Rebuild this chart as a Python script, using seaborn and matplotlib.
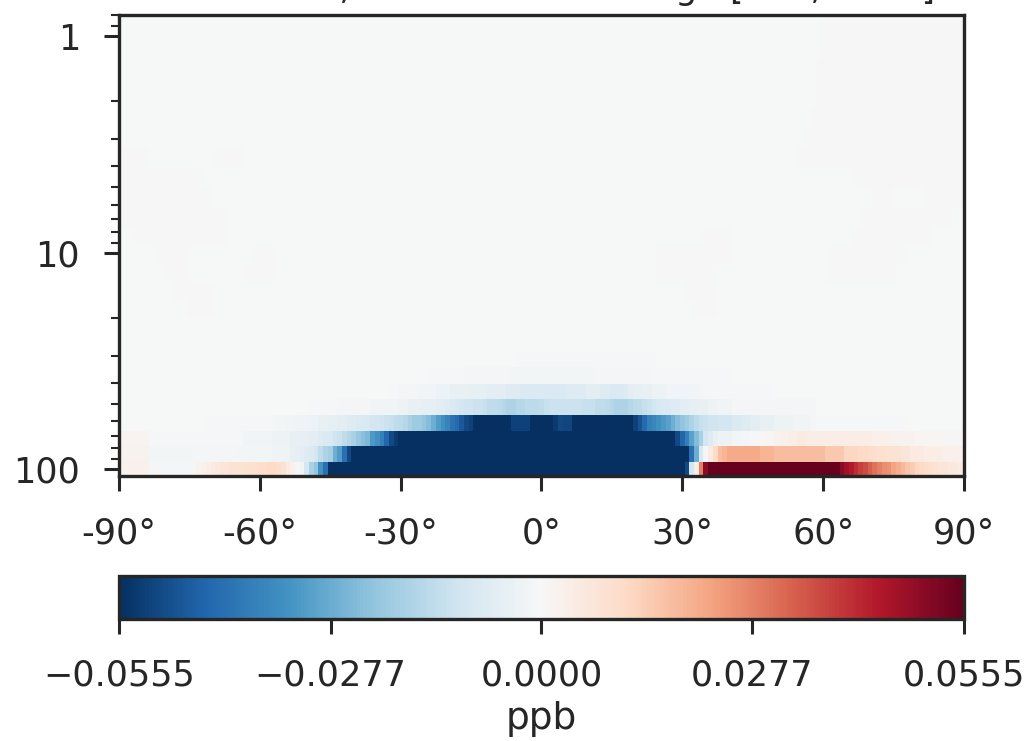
import numpy as np
import matplotlib
matplotlib.use("Agg")
import matplotlib.pyplot as plt
import seaborn as sns

# values, in 1e-3 ppb, one row per level from the bottom up
bg = -0.4
tint = 0.1
r00 = [3]*7 + [-1]*9 + [1, 2, 3, 4, 5] + [6, 7, 7, 8, 8, 8, 9, 9, 9, 10, 10, 11, 11] + [10, 8, 5, 3, -1, -2, -10, -18, -22, -33, -42] + [-60]*76 + [-50, -10, 4, 28, 50] + [60]*28 + [50, 47, 44, 41, 38, 36, 33, 30, 28, 26, 25, 22, 20, 18, 16, 14, 12, 11, 10, 9, 8, 7, 7, 6, 6, 5]
r01 = [2]*7 + [-1.5]*9 + [-1]*10 + [-1.5]*7 + [-2.5]*4 + [-4, -5, -6, -7] + [-8, -10, -14, -17, -19, -27, -31, -42, -50] + [-60]*72 + [-42, -27, -9, -1, 5, 11, 17, 19] + [21]*7 + [19]*3 + [17]*11 + [15]*4 + [12, 12, 12, 11, 11, 10, 10] + [9, 9, 8, 8, 8, 7, 7] + [5, 5, 5, 4, 4, 4, 4] + [3]*4
r02 = [1.5]*7 + [-0.8]*20 + [-2]*6 + [-3, -3, -3, -3, -4, -4] + [-5, -5, -6, -6, -7, -8, -9] + [-11, -12, -14, -16, -18, -21, -23, -25, -32, -34, -38, -44, -50, -53] + [-60]*59 + [-50, -44, -38, -30, -24, -18, -10, -7, -4] + [-3]*3 + [-1.5, -1.5, -1, -1, -0.5] + [0, 0, 1, 1] + [2, 3, 3, 4, 4, 5, 5] + [4]*14 + [3, 3, 3, 3, 2, 2, 2, 2, 2, 1, 1, 1, 1, 1, 1] + [0.5]*4
r03 = [bg]*19 + [-0.6]*14 + [-1.2, -1.5, -1.5, -2, -2, -2.5, -2.5, -2.5] + [-3, -3, -4, -4, -5, -5] + [-6, -6, -7, -7, -8, -8, -9] + [-10, -10, -11, -12, -13, -14] + [-15, -16, -18, -20, -20] + [-22, -24, -27, -31, -34, -37, -41, -43, -47, -50, -52] + [-60]*8 + [-52]*4 + [-60]*5 + [-53, -50, -51, -51] + [-60]*13 + [-52, -48, -43, -38, -36, -34, -32, -30, -27, -24, -22, -20, -17, -15, -13, -12] + [-11, -11, -10, -10, -10] + [-8, -8, -7, -7, -6, -6] + [-4, -4, -4, -3, -3, -3, -3, -2, -2, -2, -2, -1] + [-0.6]*19 + [bg]*12
r04 = [bg]*41 + [-0.7]*6 + [-1]*7 + [-2]*6 + [-3, -3, -4, -4, -4, -5, -5, -5, -6, -6] + [-7, -8, -9, -10, -11, -11, -12, -12] + [-13, -14, -14, -15, -16, -17, -17] + [-16, -16, -15, -15, -15, -14, -13] + [-12, -12, -12] + [-12, -12, -12, -12, -13, -13, -13] + [-14, -14, -15] + [-16, -17, -17, -17, -16] + [-15, -14, -13, -12] + [-10, -9, -8, -8] + [-7, -7, -6, -6] + [-5, -5, -4, -4, -3, -3, -2, -2, -2] + [-1]*18 + [bg]*31
r05 = [bg]*58 + [-0.6, -0.6, -1, -1, -1, -1, -2, -2, -2, -2, -3, -3, -3] + [-4, -4, -4, -4, -5, -5, -5, -5, -6, -6, -6, -6, -7] + [-7, -7, -8, -8, -8, -8, -8, -8] + [-8, -8, -8, -8, -7, -7] + [-7, -7, -6, -6, -6, -7, -7, -8, -8, -8, -7, -6] + [-5, -5, -4, -4] + [-3, -3, -3, -2, -2, -2, -2, -2, -2, -2, -1] + [-0.7]*15 + [bg]*40
r06 = [bg]*66 + [-0.7]*8 + [-1]*10 + [-1.5]*18 + [-1]*12 + [-0.7]*17 + [bg]*49
r07 = [bg]*85 + [-0.6]*30 + [bg]*65
r08 = [bg]*180
r09 = [bg]*180
r10 = [bg]*15 + [tint]*6 + [bg]*102 + [tint]*5 + [bg]*52
r11 = [bg]*12 + [tint]*9 + [bg]*100 + [tint]*7 + [bg]*52
r12 = [bg]*10 + [tint]*5 + [bg]*12 + [tint]*7 + [bg]*81 + [tint]*12 + [bg]*24 + [tint]*15 + [bg]*14
r13 = [bg]*8 + [tint]*7 + [bg]*14 + [tint]*5 + [bg]*81 + [tint]*16 + [bg]*21 + [tint]*16 + [bg]*12
r14 = [bg]*4 + [tint]*20 + [bg]*101 + [tint]*6 + [bg]*26 + [tint]*17 + [bg]*6
r15 = [tint]*23 + [bg]*136 + [tint]*19 + [bg]*2
r16 = [tint]*20 + [bg]*141 + [tint]*4 + [bg]*7 + [tint]*8
r17 = [tint]*18 + [bg]*139 + [tint]*23
r18 = [tint]*7 + [bg]*14 + [tint]*6 + [bg]*118 + [tint]*35
r19 = [bg]*147 + [tint]*33
r20 = [bg]*148 + [tint]*32
r21 = [bg]*149 + [tint]*31
r22 = [bg]*149 + [tint]*31
r23 = [bg]*150 + [tint]*30
r24 = [bg]*150 + [tint]*30

rows = [r00, r01, r02, r03, r04, r05, r06, r07, r08, r09, r10, r11, r12,
        r13, r14, r15, r16, r17, r18, r19, r20, r21, r22, r23, r24]

# level edges in hPa, bottom of the plot first
level_edges = [107.7, 93, 78.4, 66.7, 56.3, 47.5, 40.5, 33.8, 28.5, 23.8, 19.9, 16.6, 13.7,
               11.4, 9.33, 7.7, 6.16, 5.04, 4.07, 3.29, 2.63, 2.13, 1.65, 1.29, 1.04, 0.8]
lat_edges = np.append(np.arange(-90.5, 89.5, 1), 90)
lat_ticks = [-90, -60, -30, 0, 30, 60, 90]
level_ticks = [1, 10, 100]
cbar_ticks = [-0.0555, -0.0277, 0.0, 0.0277, 0.0555]
vmax = 0.0555

sns.set_theme(style="ticks", rc={"font.size": 25.2, "axes.linewidth": 2.4})
cmap = sns.color_palette("RdBu_r", as_cmap=True)

fig = plt.figure(figsize=(10.31, 7.41), dpi=100)
ax = fig.add_axes([0.1154, 0.3576, 0.8196, 0.622])
values = np.array(rows) / 1000
mesh = ax.pcolormesh(lat_edges, level_edges, values, cmap=cmap, vmin=-vmax, vmax=vmax)
ax.set_yscale("log")
ax.set_ylim(107.7, 0.8)
ax.set_xlim(-90, 90)
ax.set_xticks(lat_ticks)
ax.set_xticklabels([f"{v}°" for v in lat_ticks])
ax.set_yticks(level_ticks)
ax.set_yticklabels([str(v) for v in level_ticks])
ax.tick_params(axis="x", which="major", labelsize=25.2, length=11, width=2.2, pad=18)
ax.tick_params(axis="y", which="major", labelsize=25.2, length=11, width=2.2, pad=17)
ax.tick_params(axis="y", which="minor", length=5.8, width=1.5, labelleft=False)

# title runs off the top edge, same as the reference
fig.text(0.5315, 1.0013, "Ozone diff, zonal mean average [60S, 180E]", ha="center", va="baseline", fontsize=25.2)

cax = fig.add_axes([0.1154, 0.1646, 0.8196, 0.058])
cbar = fig.colorbar(mesh, cax=cax, orientation="horizontal", ticks=cbar_ticks)
cbar.ax.set_xticklabels([f"{v:.4f}".replace("-", "\u2212") for v in cbar_ticks])
cbar.outline.set_linewidth(2.4)
cbar.ax.tick_params(labelsize=25.2, length=11, width=2.2, pad=17.7)
cbar.set_label("ppb", fontsize=27, labelpad=6)

fig.savefig("out.png", dpi=100)
